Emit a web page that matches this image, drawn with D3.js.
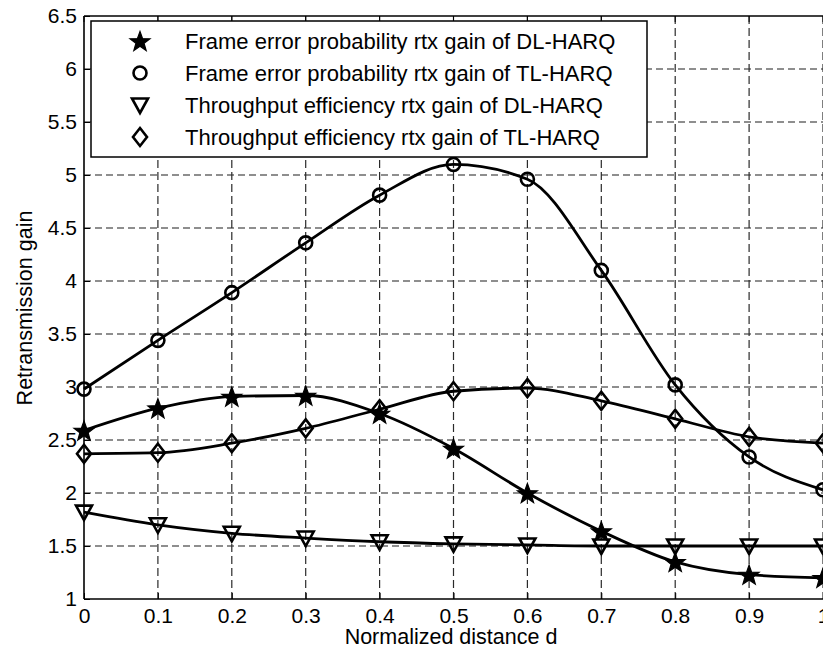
<!DOCTYPE html>
<html>
<head>
<meta charset="utf-8">
<script src="https://cdn.jsdelivr.net/npm/d3@7/dist/d3.min.js"></script>
<style>
  html, body { margin: 0; padding: 0; background: #fff; }
  svg { display: block; }
  text { font-family: "Liberation Sans", Arial, sans-serif; fill: #000; }
</style>
</head>
<body>
<script>
// ---- data ----
const distance = [0, 0.1, 0.2, 0.3, 0.4, 0.5, 0.6, 0.7, 0.8, 0.9, 1.0];
const fepGainDL = [2.59, 2.80, 2.91, 2.92, 2.75, 2.42, 2.00, 1.64, 1.35, 1.23, 1.20];
const fepGainTL = [2.98, 3.44, 3.89, 4.36, 4.81, 5.10, 4.96, 4.10, 3.02, 2.34, 2.03];
const teGainDL  = [1.82, 1.70, 1.62, 1.575, 1.54, 1.52, 1.51, 1.50, 1.50, 1.50, 1.50];
const teGainTL  = [2.37, 2.38, 2.47, 2.61, 2.79, 2.96, 2.99, 2.87, 2.70, 2.53, 2.47];
const seriesNames = [
  "Frame error probability rtx gain of DL-HARQ",
  "Frame error probability rtx gain of TL-HARQ",
  "Throughput efficiency rtx gain of DL-HARQ",
  "Throughput efficiency rtx gain of TL-HARQ"
];
const markerTypes = ["star", "circle", "triangle", "diamond"];
const xTickValues = [0, 0.1, 0.2, 0.3, 0.4, 0.5, 0.6, 0.7, 0.8, 0.9, 1];
const xTickLabels = ["0", "0.1", "0.2", "0.3", "0.4", "0.5", "0.6", "0.7", "0.8", "0.9", "1"];
const yTickValues = [1, 1.5, 2, 2.5, 3, 3.5, 4, 4.5, 5, 5.5, 6, 6.5];
const yTickLabels = ["1", "1.5", "2", "2.5", "3", "3.5", "4", "4.5", "5", "5.5", "6", "6.5"];
const xTitle = "Normalized distance d";
const yTitle = "Retransmission gain";

const seriesValues = [fepGainDL, fepGainTL, teGainDL, teGainTL];

// ---- layout ----
const W = 823, H = 659;
const pLeft = 84, pRight = 823, pTop = 16, pBottom = 599;

const svg = d3.select("body").append("svg").attr("width", W).attr("height", H);

const x = d3.scaleLinear().domain([0, 1]).range([pLeft, pRight]);
const y = d3.scaleLinear().domain([1, 6.5]).range([pBottom, pTop]);

// grid
const grid = svg.append("g");
grid.selectAll("line.h").data(yTickValues.slice(1, -1)).join("line")
  .attr("x1", pLeft).attr("x2", pRight)
  .attr("y1", d => y(d)).attr("y2", d => y(d))
  .attr("stroke", "#6a6a6a").attr("stroke-width", 1.5)
  .attr("stroke-dasharray", "7,4");
grid.selectAll("line.v").data(xTickValues.slice(1)).join("line")
  .attr("x1", d => x(d)).attr("x2", d => x(d))
  .attr("y1", pTop).attr("y2", pBottom)
  .attr("stroke", "#2a2a2a").attr("stroke-width", 1.2)
  .attr("stroke-dasharray", "8,4");

// axes
const xAxis = d3.axisBottom(x).tickValues(xTickValues)
  .tickFormat((d, i) => xTickLabels[i]).tickSize(-6).tickSizeOuter(0).tickPadding(9);
const gx = svg.append("g").attr("transform", `translate(0,${pBottom})`).call(xAxis);
const yAxis = d3.axisLeft(y).tickValues(yTickValues)
  .tickFormat((d, i) => yTickLabels[i]).tickSize(-6).tickSizeOuter(0).tickPadding(7);
const gy = svg.append("g").attr("transform", `translate(${pLeft},0)`).call(yAxis);
[gx, gy].forEach(g => {
  g.select(".domain").remove();
  g.selectAll(".tick line").attr("stroke", "#000").attr("stroke-width", 1);
  g.selectAll(".tick text").attr("font-size", 21).attr("font-family", "Liberation Sans, Arial, sans-serif").attr("fill", "#000");
});
// top ticks
svg.append("g").selectAll("line").data(xTickValues).join("line")
  .attr("x1", d => x(d)).attr("x2", d => x(d)).attr("y1", pTop).attr("y2", pTop + 6)
  .attr("stroke", "#000");

// frame
svg.append("line").attr("x1", pLeft).attr("x2", pRight + 2).attr("y1", pTop).attr("y2", pTop)
  .attr("stroke", "#000").attr("stroke-width", 1.6);
svg.append("line").attr("x1", pLeft).attr("x2", pRight + 2).attr("y1", pBottom).attr("y2", pBottom)
  .attr("stroke", "#000").attr("stroke-width", 1.6);
svg.append("line").attr("x1", pLeft).attr("x2", pLeft).attr("y1", pTop).attr("y2", pBottom)
  .attr("stroke", "#000").attr("stroke-width", 1.6);

// titles
svg.append("text").attr("x", 451).attr("y", 644)
  .attr("text-anchor", "middle").attr("font-size", 21.5).text(xTitle);
svg.append("text").attr("transform", `translate(32,308)rotate(-90)`)
  .attr("text-anchor", "middle").attr("font-size", 21.5).text(yTitle);

// markers
function marker(g, type, cx, cy) {
  if (type === "circle") {
    g.append("circle").attr("cx", cx).attr("cy", cy).attr("r", 6.5)
      .attr("fill", "none").attr("stroke", "#000").attr("stroke-width", 2.6);
  } else if (type === "star") {
    const pts = [];
    for (let k = 0; k < 10; k++) {
      const r = k % 2 === 0 ? 10.5 : 4.3;
      const a = -Math.PI / 2 + k * Math.PI / 5;
      pts.push([cx + r * Math.cos(a), cy + 1 + r * Math.sin(a)]);
    }
    g.append("polygon").attr("points", pts.map(p => p.join(",")).join(" "))
      .attr("fill", "#000").attr("stroke", "#000").attr("stroke-width", 1.2);
  } else if (type === "triangle") {
    const pts = [[cx - 8, cy - 6.5], [cx + 8, cy - 6.5], [cx, cy + 8]];
    g.append("polygon").attr("points", pts.map(p => p.join(",")).join(" "))
      .attr("fill", "none").attr("stroke", "#000").attr("stroke-width", 2.6).attr("stroke-linejoin", "miter");
  } else if (type === "diamond") {
    const pts = [[cx, cy - 9], [cx + 7, cy], [cx, cy + 9], [cx - 7, cy]];
    g.append("polygon").attr("points", pts.map(p => p.join(",")).join(" "))
      .attr("fill", "none").attr("stroke", "#000").attr("stroke-width", 2.6);
  }
}

// lines
const line = d3.line().x(d => x(d[0])).y(d => y(d[1])).curve(d3.curveMonotoneX);
const plot = svg.append("g");
seriesValues.forEach((vals, si) => {
  const pts = distance.map((d, i) => [d, vals[i]]);
  plot.append("path").attr("d", line(pts)).attr("fill", "none")
    .attr("stroke", "#000").attr("stroke-width", 2.8);
});
seriesValues.forEach((vals, si) => {
  const g = plot.append("g");
  distance.forEach((d, i) => marker(g, markerTypes[si], x(d), y(vals[i])));
});

// legend
const lg = svg.append("g");
lg.append("rect").attr("x", 91).attr("y", 21).attr("width", 556).attr("height", 136)
  .attr("fill", "#fff").attr("stroke", "#000").attr("stroke-width", 1.5);
seriesNames.forEach((name, i) => {
  const cy = 41 + i * 32;
  marker(lg, markerTypes[i], 140, cy);
  lg.append("text").attr("x", 185).attr("y", cy + 7.5).attr("font-size", 22).text(name);
});
</script>
</body>
</html>
